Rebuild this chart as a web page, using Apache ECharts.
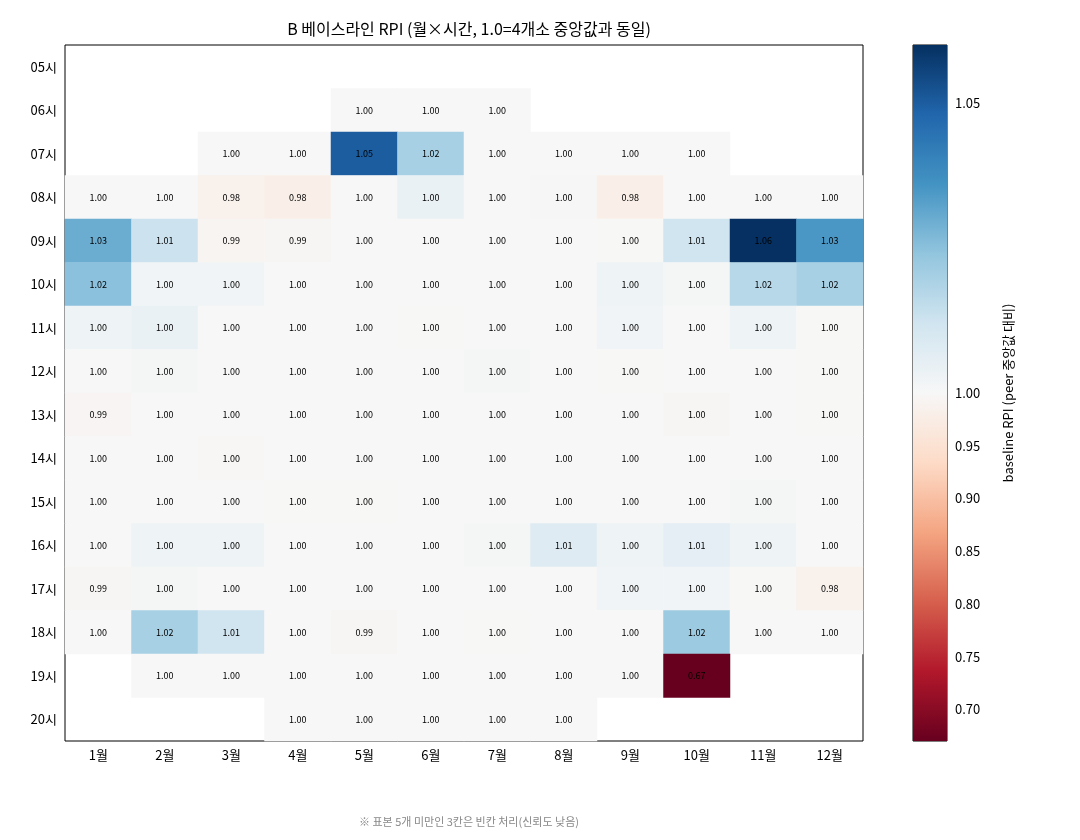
<!DOCTYPE html>
<html><head><meta charset="utf-8">
<script src="https://cdn.jsdelivr.net/npm/echarts@6/dist/echarts.min.js"></script>
<style>html,body{margin:0;background:#fff}#c{width:1080px;height:840px}</style>
</head><body><div id="c"></div>
<script>
const months=['1월','2월','3월','4월','5월','6월','7월','8월','9월','10월','11월','12월'];
const hours=['05시','06시','07시','08시','09시','10시','11시','12시','13시','14시','15시','16시','17시','18시','19시','20시'];
const N=null;
const values=[
[N,N,N,N,N,N,N,N,N,N,N,N],
[N,N,N,N,1.0,1.0,1.0,N,N,N,N,N],
[N,N,1.0,1.0,1.05,1.02,1.0,1.0,1.0,1.0,N,N],
[1.0,1.0,0.985,0.98,1.0,1.004,1.0,0.998,0.98,1.0,1.0,1.0],
[1.03,1.013,0.993,0.995,1.0,1.0,1.0,1.0,0.999,1.012,1.06,1.035],
[1.025,1.002,1.002,1.0,1.0,1.0,1.0,1.0,1.003,1.001,1.017,1.02],
[1.003,1.004,1.0,1.0,1.0,0.999,1.0,1.0,1.002,1.0,1.003,0.999],
[1.0,1.001,1.0,1.0,1.0,1.0,1.001,1.0,0.999,1.0,1.0,0.999],
[0.994,1.0,1.0,1.0,1.0,1.0,1.0,1.0,1.0,0.996,1.0,0.999],
[1.0,1.0,0.997,1.0,1.0,1.0,1.0,1.0,1.0,1.0,1.0,1.0],
[1.0,1.0,1.0,0.999,0.999,1.0,1.0,1.0,1.0,1.0,1.001,1.0],
[1.0,1.003,1.003,1.0,1.0,1.0,1.001,1.008,1.003,1.006,1.003,1.0],
[0.995,1.001,1.0,1.0,1.0,1.0,1.0,1.0,1.002,1.002,0.999,0.985],
[1.0,1.02,1.012,1.0,0.995,1.0,0.999,1.0,1.0,1.022,1.0,1.0],
[N,1.0,1.0,1.0,1.0,1.0,1.0,1.0,1.0,0.67,N,N],
[N,N,N,1.0,1.0,1.0,1.0,1.0,N,N,N,N]];
const cbTicks=[0.70,0.75,0.80,0.85,0.90,0.95,1.00,1.05];
const vmin=0.67,vmax=1.06,vc=1.0;
const tf=v=>v>=vc?(v-vc)/(vmax-vc):(v-vc)/(vc-vmin);
const itf=t=>t>=0?vc+t*(vmax-vc):vc+t*(vc-vmin);
const rdbu=['#67001f','#b2182b','#d6604d','#f4a582','#fddbc7','#f7f7f7','#d1e5f0','#92c5de','#4393c3','#2166ac','#053061'];
const data=[];
values.forEach((r,y)=>r.forEach((v,x)=>{if(v!=null)data.push([x,y,v,tf(v)]);}));
const F='"Noto Sans CJK KR","Noto Sans",sans-serif';
const ch=echarts.init(document.getElementById('c'));
ch.setOption({
 textStyle:{fontFamily:F},
 title:[{text:'B 베이스라인 RPI (월×시간, 1.0=4개소 중앙값과 동일)',left:464,top:16,textAlign:'center',textStyle:{fontSize:16,fontWeight:'normal',color:'#000',fontFamily:F}},
  {text:'※ 표본 5개 미만인 3칸은 빈칸 처리(신뢰도 낮음)',left:464,top:811,textAlign:'center',textStyle:{fontSize:11,fontWeight:'normal',color:'#888',fontFamily:F}}],
 grid:[{left:65,top:45,width:798,height:696,show:true,borderColor:'#000',borderWidth:1,backgroundColor:'transparent'},
       {left:913,top:45,width:34,height:696,show:true,borderColor:'#000',borderWidth:1}],
 xAxis:[{type:'category',data:months,gridIndex:0,axisLine:{show:false},axisTick:{alignWithLabel:true,length:4,lineStyle:{color:'#000'}},axisLabel:{color:'#000',fontSize:13,margin:8},splitLine:{show:false}},
        {type:'value',gridIndex:1,min:0,max:1,show:false}],
 yAxis:[{type:'category',data:hours,gridIndex:0,inverse:true,axisLine:{show:false},axisTick:{alignWithLabel:true,length:4,lineStyle:{color:'#000'}},axisLabel:{color:'#000',fontSize:13,margin:8}},
        {type:'value',gridIndex:1,min:-1,max:1,position:'right',axisLine:{show:false},splitLine:{show:false},
         axisTick:{show:true,length:4,customValues:cbTicks.map(tf),lineStyle:{color:'#000'}},
         axisLabel:{color:'#000',fontSize:13,customValues:cbTicks.map(tf),formatter:v=>itf(v).toFixed(2)},
         name:'baseline RPI (peer 중앙값 대비)',nameLocation:'middle',nameRotate:90,nameGap:55,nameTextStyle:{fontSize:13,color:'#000'}}],
 visualMap:{show:false,type:'continuous',dimension:3,min:-1,max:1,seriesIndex:0,inRange:{color:rdbu}},
 series:[{type:'heatmap',xAxisIndex:0,yAxisIndex:0,data:data,
   label:{show:true,fontSize:9,color:'#000',formatter:p=>p.data[2].toFixed(2)},itemStyle:{borderWidth:0}},
  {type:'custom',xAxisIndex:1,yAxisIndex:1,data:[[0]],renderItem:(params,api)=>{
    const a=api.coord([0,1]),b=api.coord([1,-1]);
    const stops=rdbu.slice().reverse().map((c,i)=>({offset:i/10,color:c}));
    return {type:'rect',shape:{x:a[0],y:a[1],width:b[0]-a[0],height:b[1]-a[1]},style:{fill:new echarts.graphic.LinearGradient(0,0,0,1,stops)}};
  },silent:true}]
});
</script></body></html>
